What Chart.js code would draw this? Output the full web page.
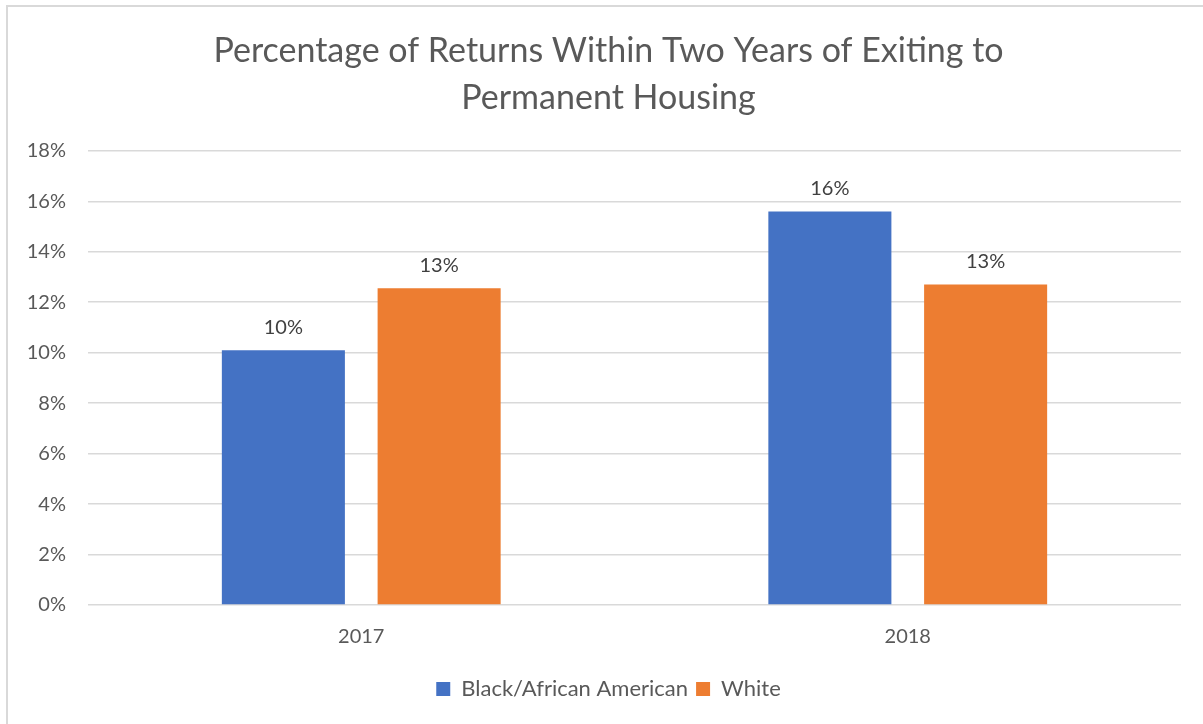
<!DOCTYPE html>
<html>
<head>
<meta charset="utf-8">
<script src="https://cdn.jsdelivr.net/npm/chart.js@4"></script>
<style>
  html, body { margin: 0; padding: 0; background: #fff; }
  #wrap {
    position: absolute; left: 6px; top: 5px; width: 1197px; height: 719px;
    border-left: 2px solid #d9d9d9; border-top: 2px solid #d9d9d9;
    box-sizing: border-box;
  }
</style>
</head>
<body>
<div id="wrap"><canvas id="returnsChart"></canvas></div>
<script>
// Returns within two years of exiting to permanent housing
const years = ['2017', '2018'];
const blackValues = [10.1, 15.6];
const whiteValues = [12.55, 12.7];
const yTicks = [0, 2, 4, 6, 8, 10, 12, 14, 16, 18];

const textColor = '#595959';
const fontFamily = 'Lato, "Open Sans", sans-serif';

// draws the rounded value above each bar
const barLabels = {
    id: 'barLabels',
    afterDatasetsDraw(chart) {
        const c = chart.ctx;
        c.save();
        c.fillStyle = '#404040';
        c.font = '20px ' + fontFamily;
        c.textAlign = 'center';
        c.textBaseline = 'bottom';
        chart.data.datasets.forEach((ds, i) => {
            chart.getDatasetMeta(i).data.forEach((bar, j) => {
                c.fillText(Math.round(ds.data[j]) + '%', bar.x, bar.y - 13);
            });
        });
        c.restore();
    }
};

// title and legend sit a little right of centre in the original
const nudgeBlocks = {
    id: 'nudgeBlocks',
    afterLayout(chart) {
        [chart.titleBlock, chart.legend].forEach(b => {
            if (b) { b.left += 8; b.right += 8; }
        });
    }
};

const ctx = document.getElementById('returnsChart').getContext('2d');
const returnsChart = new Chart(ctx, {
    type: 'bar',
    data: {
        labels: years,
        datasets: [{
            label: 'Black/African American',
            data: blackValues,
            backgroundColor: '#4472c4',
            categoryPercentage: 0.57,
            barPercentage: 0.79
        }, {
            label: 'White',
            data: whiteValues,
            backgroundColor: '#ed7d31',
            categoryPercentage: 0.57,
            barPercentage: 0.79
        }]
    },
    options: {
        responsive: true,
        maintainAspectRatio: false,
        animation: false,
        layout: { padding: { left: 12, right: 22, top: 8, bottom: 14 } },
        plugins: {
            title: {
                display: true,
                text: ['Percentage of Returns Within Two Years of Exiting to', 'Permanent Housing'],
                color: textColor,
                font: { family: fontFamily, size: 34, weight: 'normal', lineHeight: 1.38 },
                padding: { top: 13, bottom: 29 }
            },
            legend: {
                position: 'bottom',
                labels: {
                    color: textColor,
                    font: { family: fontFamily, size: 22 },
                    boxWidth: 14,
                    boxHeight: 14,
                    padding: 8
                }
            },
            tooltip: { enabled: false }
        },
        scales: {
            y: {
                min: 0,
                max: 18,
                afterBuildTicks(axis) { axis.ticks = yTicks.map(v => ({ value: v })); },
                afterFit(axis) { axis.width = 68; },
                ticks: {
                    color: textColor,
                    font: { family: fontFamily, size: 20 },
                    padding: 22,
                    callback: v => v + '%'
                },
                grid: { color: '#d9d9d9', lineWidth: 1.5, drawTicks: false },
                border: { display: false }
            },
            x: {
                afterFit(axis) { axis.height += 9; },
                ticks: {
                    color: textColor,
                    font: { family: fontFamily, size: 20 },
                    padding: 12
                },
                grid: { display: false },
                border: { display: false }
            }
        }
    },
    plugins: [barLabels, nudgeBlocks]
});
</script>
</body>
</html>
